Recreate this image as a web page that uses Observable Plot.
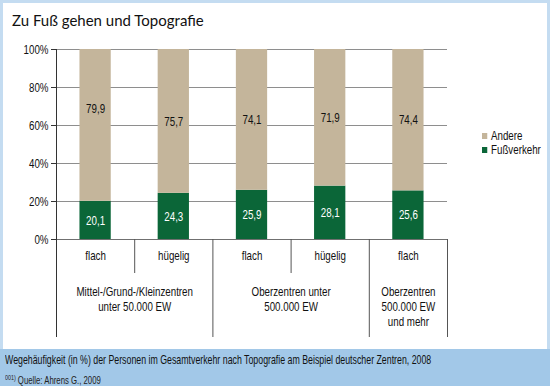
<!DOCTYPE html>
<html><head><meta charset="utf-8">
<script src="https://cdn.jsdelivr.net/npm/d3@7"></script>
<script src="https://cdn.jsdelivr.net/npm/@observablehq/plot@0.6"></script>
<style>
body{margin:0;}
#frame{position:relative;width:550px;height:386px;background:#a2c8e8;overflow:hidden;font-family:"Liberation Sans",Arial,sans-serif;color:#111;}
#top{position:absolute;left:0;top:0;width:550px;height:349px;background:#c4dcf1;}
#panel{position:absolute;left:3px;top:3px;width:544px;height:346px;background:#fff;}
#title{position:absolute;left:12px;top:11px;font-family:Lato,"Open Sans",sans-serif;font-size:15px;line-height:18px;color:#111;white-space:nowrap;}
#chart{position:absolute;left:0;top:0;}
.narrow{position:absolute;white-space:nowrap;transform-origin:0 0;}
#legend{left:482px;top:129px;font-size:13px;line-height:14px;transform:scaleX(0.75);}
#legend .sw{display:inline-block;width:7px;height:6px;margin-right:5px;vertical-align:1px;}
#caption{left:5px;top:352px;font-size:13px;line-height:15px;color:#111;}
#source{left:5px;top:371px;font-size:11.5px;line-height:14px;color:#222;}
#source sup{font-size:8px;vertical-align:4px;margin-right:3px;}
</style></head>
<body>
<div id="frame">
  <div id="top"></div>
  <div id="panel"></div>
  <div id="title">Zu Fuß gehen und Topografie</div>
  <div id="chart"></div>
  <div id="legend" class="narrow"></div>
  <div id="caption" class="narrow">Wegehäufigkeit (in %) der Personen im Gesamtverkehr nach Topografie am Beispiel deutscher Zentren, 2008</div>
  <div id="source" class="narrow"><sup>001)</sup>Quelle: Ahrens G., 2009</div>
</div>
<script>
// ---- data ----
const topo = ["flach", "hügelig", "flach", "hügelig", "flach"];
const groupLabels = ["Mittel-/Grund-/Kleinzentren\nunter 50.000 EW", "Oberzentren unter\n500.000 EW", "Oberzentren\n500.000 EW\nund mehr"];
const groupFirst = [0, 2, 4];
const groupSize = [2, 2, 1];
const fuss = [20.1, 24.3, 25.9, 28.1, 25.6];
const andere = [79.9, 75.7, 74.1, 71.9, 74.4];
const series = ["Fußverkehr", "Andere"];
const seriesColors = ["#0b6638", "#c4b59b"];
const yTicks = [0, 20, 40, 60, 80, 100];
const legendOrder = ["Andere", "Fußverkehr"];

// ---- build ----
const idx = d3.range(topo.length);
const rows = [];
idx.forEach(i => {
  rows.push({i, series: "Fußverkehr", value: fuss[i]});
  rows.push({i, series: "Andere", value: andere[i]});
});
const fmt = v => v.toFixed(1).replace(".", ",");

const W = 550, H = 349, mL = 56, mR = 103, mT = 49, mB = 110;
const step = (W - mL - mR) / topo.length;
const font = `"Liberation Sans",Arial,sans-serif`;
const NARROW = 0.75;
const FS = 13;

const stackOpts = {x: "i", y: "value", z: "series", order: series};

const chart = Plot.plot({
  width: W, height: H,
  marginLeft: mL, marginRight: mR, marginTop: mT, marginBottom: mB,
  style: {background: "transparent", fontFamily: font, fontSize: FS + "px", color: "#111", overflow: "visible"},
  x: {domain: idx, paddingInner: 0.6, paddingOuter: 0.3, round: false, axis: null},
  y: {domain: [0, 100], axis: null},
  color: {domain: series, range: seriesColors},
  marks: [
    Plot.ruleY(yTicks.filter(d => d > 0), {stroke: "#8e8e8e", strokeWidth: 1}),
    Plot.barY(rows, Plot.stackY({...stackOpts, fill: "series"})),
    Plot.ruleY([0], {stroke: "#707070", strokeWidth: 1}),
    Plot.axisY(yTicks, {label: null, tickFormat: d => d + "%", tickSize: 5, tickPadding: 3, fontSize: FS, stroke: "#333", fill: "#111"}),
    // value labels (stack over all rows, show only the wanted series' text)
    Plot.text(rows, Plot.stackY({...stackOpts, text: d => d.series === "Fußverkehr" ? fmt(d.value) : null, fill: "#fff", fontSize: FS})),
    Plot.text(rows, Plot.stackY({...stackOpts, text: d => d.series === "Andere" && d.i !== 0 ? fmt(d.value) : null, fill: "#111", fontSize: FS})),
    Plot.text(rows, Plot.stackY({...stackOpts, text: d => d.series === "Andere" && d.i === 0 ? fmt(d.value) : null, fill: "#111", fontSize: FS, dy: -17})),
    // category axis: separators
    Plot.ruleX([0], {x: d => d, dx: -step / 2, y1: 100, y2: 0, insetBottom: -98, stroke: "#333"}),
    Plot.ruleX([0, 2], {x: d => d, dx: step / 2, y1: 0, y2: 0, insetBottom: -34, stroke: "#555"}),
    Plot.ruleX([1, 3, 4], {x: d => d, dx: step / 2, y1: 0, y2: 0, insetBottom: -98, stroke: "#555"}),
    // topography labels
    Plot.text(idx, {x: d => d, frameAnchor: "bottom", dy: 20, text: d => topo[d], fill: "#111", fontSize: FS}),
    // group labels
    Plot.text(d3.range(groupLabels.length).filter(g => groupSize[g] === 2), {x: g => groupFirst[g], dx: step / 2, frameAnchor: "bottom", lineAnchor: "top", dy: 46, lineHeight: 1.15, text: g => groupLabels[g], fill: "#111", fontSize: FS}),
    Plot.text(d3.range(groupLabels.length).filter(g => groupSize[g] === 1), {x: g => groupFirst[g], frameAnchor: "bottom", lineAnchor: "top", dy: 46, lineHeight: 1.15, text: g => groupLabels[g], fill: "#111", fontSize: FS})
  ]
});
// condensed look: squeeze glyphs horizontally around each text's own anchor
chart.querySelectorAll("text").forEach(t => {
  t.setAttribute("transform", (t.getAttribute("transform") || "") + ` scale(${NARROW},1)`);
});
document.getElementById("chart").appendChild(chart);

// legend
const lg = document.getElementById("legend");
legendOrder.forEach(s => {
  const row = document.createElement("div");
  const sw = document.createElement("span");
  sw.className = "sw";
  sw.style.background = seriesColors[series.indexOf(s)];
  row.appendChild(sw);
  row.appendChild(document.createTextNode(s));
  lg.appendChild(row);
});

// caption / source: fit to the reference's condensed widths
function fit(id, target) {
  const el = document.getElementById(id);
  const w = el.scrollWidth;
  el.style.transform = `scaleX(${target / w})`;
}
fit("caption", 426);
fit("source", 96);
</script>
</body></html>
